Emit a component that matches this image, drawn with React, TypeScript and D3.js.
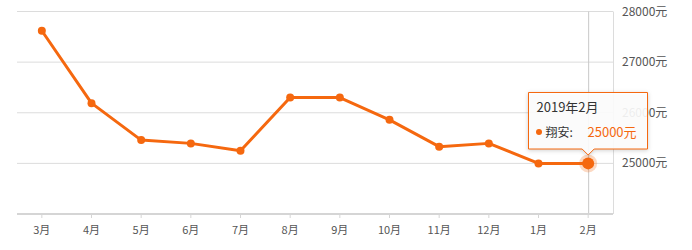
import React from "react";
import * as d3 from "d3";

const months = ["3月", "4月", "5月", "6月", "7月", "8月", "9月", "10月", "11月", "12月", "1月", "2月"];
const prices = [27620, 26190, 25460, 25395, 25250, 26300, 26300, 25860, 25330, 25395, 25000, 25000];
const yTicks = [24000, 25000, 26000, 27000, 28000];
const tooltipTitle = "2019年2月";
const seriesName = "翔安";

const W = 692;
const H = 250;
const left = 17;
const right = 613;
const top = 11.5;
const bottom = 214;
const orange = "#f5680f";
const font = "'Noto Sans CJK SC', 'Microsoft YaHei', sans-serif";

export default function App() {
  const x = d3.scaleBand<string>().domain(months).range([left, right]);
  const cx = (m: string) => (x(m) as number) + x.bandwidth() / 2;
  const y = d3.scaleLinear().domain([24000, 28000]).range([bottom, top]);
  const line = d3
    .line<number>()
    .x((_, i) => cx(months[i]))
    .y((d) => y(d));
  const last = months.length - 1;
  const hx = cx(months[last]);
  const hy = y(prices[last]);
  const tipL = 528.5, tipT = 92.5, tipW = 119, tipH = 56.5;

  return (
    <div style={{ position: "absolute", left: 0, top: 0 }}>
      <svg width={W} height={H} style={{ display: "block", fontFamily: font }}>
        {yTicks.slice(1).map((t) => (
          <line key={t} x1={left} x2={right} y1={y(t)} y2={y(t)} stroke="#dcdcdc" strokeWidth={1} />
        ))}
        <line x1={right + 0.5} x2={right + 0.5} y1={top} y2={bottom} stroke="#dcdcdc" strokeWidth={1} />
        <line x1={hx + 0.5} x2={hx + 0.5} y1={top} y2={bottom} stroke="#c8c8c8" strokeWidth={1} />
        <line x1={left} x2={right} y1={bottom} y2={bottom} stroke="#d5d5d5" strokeWidth={2} />
        {months.map((m) => (
          <g key={m}>
            <line x1={cx(m)} x2={cx(m)} y1={bottom} y2={bottom + 4} stroke="#d5d5d5" strokeWidth={1} />
            <text x={cx(m)} y={234} textAnchor="middle" fontSize={11} fill="#555">
              {m}
            </text>
          </g>
        ))}
        {yTicks.slice(1).map((t) => (
          <text key={t} x={622} y={y(t) + 4} fontSize={12} fill="#555">
            {t}元
          </text>
        ))}
        <path d={line(prices) || ""} fill="none" stroke={orange} strokeWidth={3} strokeLinejoin="round" />
        {prices.map((p, i) => (
          <circle key={i} cx={cx(months[i])} cy={y(p)} r={4} fill={orange} />
        ))}
        <circle cx={hx} cy={hy} r={9} fill={orange} opacity={0.25} />
        <circle cx={hx} cy={hy} r={6} fill={orange} />
        <g>
          <path
            d={`M${tipL},${tipT} h${tipW} v${tipH} H${hx + 6} l-6,6 l-6,-6 H${tipL} Z`}
            fill="rgba(255,255,255,0.9)"
            stroke={orange}
            strokeWidth={1}
            style={{ filter: "drop-shadow(0px 1px 2px rgba(0,0,0,0.2))" }}
          />
          <text x={tipL + 8} y={tipT + 19} fontSize={13} fill="#333">
            {tooltipTitle}
          </text>
          <circle cx={tipL + 10.5} cy={tipT + 39.5} r={3} fill={orange} />
          <text x={tipL + 17} y={tipT + 44} fontSize={12} fill="#333">
            {seriesName}:
          </text>
          <text x={tipL + 59} y={tipT + 44} fontSize={13} fill={orange}>
            {prices[last]}元
          </text>
        </g>
      </svg>
    </div>
  );
}
